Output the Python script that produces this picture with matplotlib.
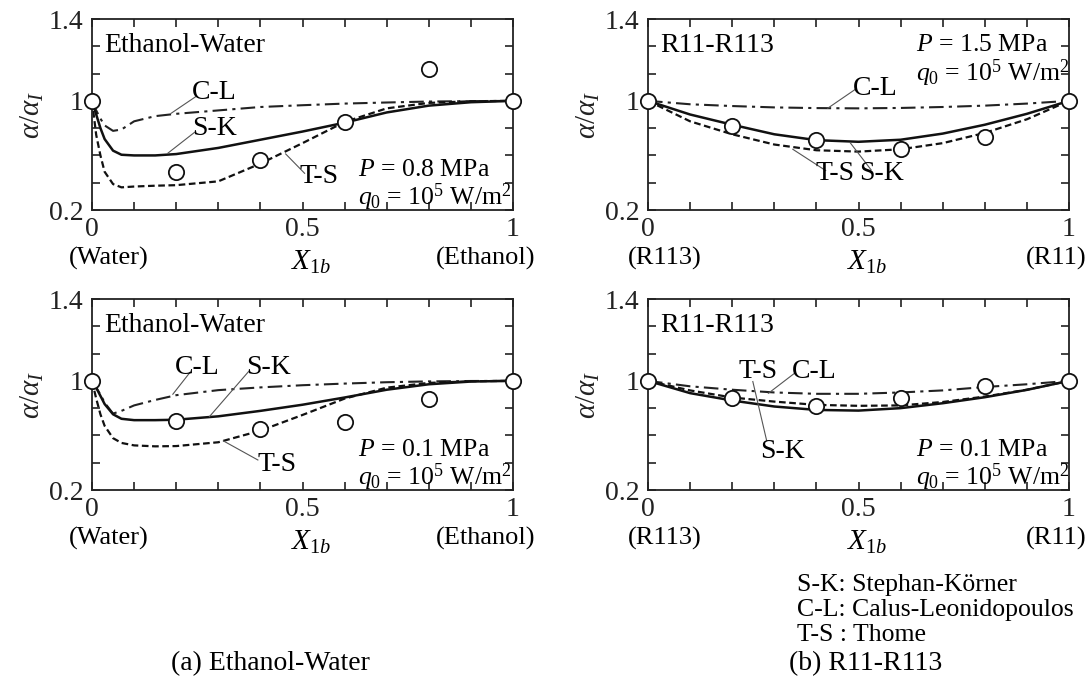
import numpy as np
import matplotlib
matplotlib.use("Agg")
import matplotlib.pyplot as plt

plt.rcParams['font.family'] = ['Liberation Serif', 'DejaVu Serif']
plt.rcParams['mathtext.fontset'] = 'custom'
plt.rcParams['mathtext.rm'] = 'Liberation Serif'
plt.rcParams['mathtext.it'] = 'Liberation Serif:italic'
plt.rcParams['mathtext.bf'] = 'Liberation Serif:bold'

# ---- data ----
x_ew = [0, 0.01, 0.02, 0.03, 0.05, 0.07, 0.1, 0.15, 0.2, 0.3, 0.4, 0.5, 0.6, 0.7, 0.8, 0.9, 1.0]
x_rr = [0, 0.1, 0.2, 0.3, 0.4, 0.5, 0.6, 0.7, 0.8, 0.9, 1.0]
x_pts = [0, 0.2, 0.4, 0.6, 0.8, 1.0]

# Ethanol-Water, P = 0.8 MPa
cl_ew08 = [1, 0.93, 0.87, 0.82, 0.78, 0.79, 0.85, 0.888, 0.905, 0.93, 0.955, 0.968, 0.98, 0.988, 0.995, 0.998, 1]
sk_ew08 = [1, 0.90, 0.80, 0.72, 0.635, 0.605, 0.60, 0.60, 0.61, 0.655, 0.715, 0.775, 0.84, 0.915, 0.965, 0.99, 1]
ts_ew08 = [1, 0.75, 0.60, 0.48, 0.39, 0.366, 0.372, 0.378, 0.382, 0.41, 0.54, 0.69, 0.845, 0.945, 0.985, 0.997, 1]
pts_ew08 = [1, 0.48, 0.565, 0.845, 1.157, 1]

# R11-R113, P = 1.5 MPa
cl_rr15 = [1, 0.975, 0.962, 0.952, 0.947, 0.945, 0.948, 0.955, 0.965, 0.98, 1]
sk_rr15 = [1, 0.90, 0.825, 0.755, 0.712, 0.70, 0.715, 0.76, 0.825, 0.905, 1]
ts_rr15 = [1, 0.85, 0.755, 0.68, 0.638, 0.628, 0.645, 0.69, 0.765, 0.865, 1]
pts_rr15 = [1, 0.817, 0.714, 0.645, 0.733, 1]

# Ethanol-Water, P = 0.1 MPa
cl_ew01 = [1, 0.95, 0.90, 0.84, 0.76, 0.78, 0.82, 0.86, 0.895, 0.932, 0.952, 0.968, 0.98, 0.99, 0.996, 0.999, 1]
sk_ew01 = [1, 0.95, 0.89, 0.83, 0.755, 0.722, 0.712, 0.712, 0.715, 0.74, 0.78, 0.825, 0.878, 0.935, 0.975, 0.995, 1]
ts_ew01 = [1, 0.87, 0.755, 0.67, 0.58, 0.545, 0.527, 0.52, 0.522, 0.55, 0.635, 0.75, 0.87, 0.95, 0.985, 0.997, 1]
pts_ew01 = [1, 0.706, 0.645, 0.702, 0.868, 1]

# R11-R113, P = 0.1 MPa
cl_rr01 = [1, 0.96, 0.935, 0.915, 0.905, 0.905, 0.915, 0.93, 0.955, 0.975, 1]
sk_rr01 = [1, 0.91, 0.856, 0.812, 0.787, 0.782, 0.80, 0.836, 0.88, 0.934, 1]
ts_rr01 = [1, 0.93, 0.878, 0.848, 0.824, 0.817, 0.82, 0.845, 0.885, 0.935, 1]
pts_rr01 = [1, 0.878, 0.817, 0.878, 0.963, 1]

y_ticks = [0.2, 0.4, 0.6, 0.8, 1.0, 1.4 - 0.8 / 3, 1.4 - 0.4 / 3, 1.4]
y_labels = ['0.2', '', '', '', '1', '', '', '1.4']
x_ticks = [0, 0.1, 0.2, 0.3, 0.4, 0.5, 0.6, 0.7, 0.8, 0.9, 1.0]
x_labels = ['0', '', '', '', '', '0.5', '', '', '', '', '1']


# axis is 3 divisions between 1 and 1.4 and 4 divisions between 0.2 and 1
def fwd(y):
    y = np.asarray(y, dtype=float)
    return np.where(y >= 1, (y - 1) / 0.4 * 3, (y - 1) / 0.8 * 4)


def inv(t):
    t = np.asarray(t, dtype=float)
    return np.where(t >= 0, 1 + t * 0.4 / 3, 1 + t * 0.8 / 4)


W, H = 1089, 687
fig = plt.figure(figsize=(W / 100, H / 100), dpi=100)


def make_ax(x0, y0, x1, y1):
    return fig.add_axes([x0 / W, 1 - y1 / H, (x1 - x0) / W, (y1 - y0) / H])


def setup(ax, left, right):
    ax.set_yscale('function', functions=(fwd, inv))
    ax.set_xlim(0, 1)
    ax.set_ylim(0.2, 1.4)
    ax.set_xticks(x_ticks)
    ax.set_xticklabels(x_labels)
    ax.set_yticks(y_ticks)
    ax.set_yticklabels(y_labels)
    ax.minorticks_off()
    ax.tick_params(direction='in', top=True, right=True, length=6, width=1.2,
                   labelsize=20, colors='#222222')
    ax.tick_params(axis='x', pad=5)
    ax.tick_params(axis='y', pad=6)
    for s in ax.spines.values():
        s.set_linewidth(1.3)
        s.set_color('#222222')
    ax.set_ylabel(r'$\alpha/\alpha_I$', fontsize=21, color='#222222')
    ax.yaxis.set_label_coords(-0.11, 0.5)
    ax.text(0.04, -0.255, left, transform=ax.transAxes, ha='center', va='center', fontsize=19)
    ax.text(0.52, -0.275, r'$X_{\mathrm{1}b}$', transform=ax.transAxes, ha='center', va='center', fontsize=21)
    ax.text(right[1], -0.255, right[0], transform=ax.transAxes, ha='center', va='center', fontsize=19)


def draw(ax, x, cl, sk, ts, pts):
    ax.plot(x, cl, color='#222222', lw=1.5, dashes=(7, 2.5, 1.5, 2.5))
    ax.plot(x, sk, color='#111111', lw=1.8)
    ax.plot(x, ts, color='#111111', lw=1.6, dashes=(3, 1.6))
    ax.plot(x_pts, pts, 'o', ms=11, mfc='white', mec='#111111', mew=1.3, clip_on=False, zorder=5)


def leader(ax, p0, p1):
    ax.plot([p0[0], p1[0]], [p0[1], p1[1]], color='#555555', lw=0.8)


ax1 = make_ax(92, 19, 513, 210)
ax2 = make_ax(648, 19, 1069, 210)
ax3 = make_ax(92, 299, 513, 490)
ax4 = make_ax(648, 299, 1069, 490)

for ax in (ax1, ax3):
    setup(ax, '(Water)', ('(Ethanol)', 0.935))
for ax in (ax2, ax4):
    setup(ax, '(R113)', ('(R11)', 0.97))

draw(ax1, x_ew, cl_ew08, sk_ew08, ts_ew08, pts_ew08)
draw(ax2, x_rr, cl_rr15, sk_rr15, ts_rr15, pts_rr15)
draw(ax3, x_ew, cl_ew01, sk_ew01, ts_ew01, pts_ew01)
draw(ax4, x_rr, cl_rr01, sk_rr01, ts_rr01, pts_rr01)

fs = 20
# mixture names
for ax, name in ((ax1, 'Ethanol-Water'), (ax3, 'Ethanol-Water'), (ax2, 'R11-R113'), (ax4, 'R11-R113')):
    ax.text(0.03, 0.86, name, transform=ax.transAxes, ha='left', va='center', fontsize=fs)

q_txt = r'$q_{\mathrm{0}}$ = 10$^{5}$ W/m$^{2}$'
pfs = 18.5
ax1.text(0.632, 0.21, r'$P$ = 0.8 MPa', transform=ax1.transAxes, ha='left', va='center', fontsize=pfs)
ax1.text(0.632, 0.065, q_txt, transform=ax1.transAxes, ha='left', va='center', fontsize=pfs)
ax3.text(0.632, 0.21, r'$P$ = 0.1 MPa', transform=ax3.transAxes, ha='left', va='center', fontsize=pfs)
ax3.text(0.632, 0.065, q_txt, transform=ax3.transAxes, ha='left', va='center', fontsize=pfs)
ax2.text(0.637, 0.864, r'$P$ = 1.5 MPa', transform=ax2.transAxes, ha='left', va='center', fontsize=pfs)
ax2.text(0.637, 0.717, q_txt, transform=ax2.transAxes, ha='left', va='center', fontsize=pfs)
ax4.text(0.637, 0.21, r'$P$ = 0.1 MPa', transform=ax4.transAxes, ha='left', va='center', fontsize=pfs)
ax4.text(0.637, 0.065, q_txt, transform=ax4.transAxes, ha='left', va='center', fontsize=pfs)

# curve labels and leader lines
ax1.text(0.29, 1.04, 'C-L', ha='center', va='center', fontsize=fs)
leader(ax1, (0.188, 0.909), (0.246, 1.02))
ax1.text(0.29, 0.80, 'S-K', ha='center', va='center', fontsize=fs)
leader(ax1, (0.18, 0.616), (0.246, 0.775))
ax1.text(0.54, 0.445, 'T-S', ha='center', va='center', fontsize=fs)
leader(ax1, (0.46, 0.611), (0.505, 0.469))

ax2.text(0.54, 1.062, 'C-L', ha='center', va='center', fontsize=fs)
leader(ax2, (0.427, 0.946), (0.493, 1.057))
ax2.text(0.445, 0.464, 'T-S', ha='center', va='center', fontsize=fs)
leader(ax2, (0.344, 0.645), (0.422, 0.489))
ax2.text(0.555, 0.464, 'S-K', ha='center', va='center', fontsize=fs)
leader(ax2, (0.48, 0.694), (0.53, 0.494))

ax3.text(0.25, 1.064, 'C-L', ha='center', va='center', fontsize=fs)
leader(ax3, (0.192, 0.902), (0.233, 1.042))
ax3.text(0.42, 1.064, 'S-K', ha='center', va='center', fontsize=fs)
leader(ax3, (0.279, 0.738), (0.373, 1.048))
ax3.text(0.44, 0.388, 'T-S', ha='center', va='center', fontsize=fs)
leader(ax3, (0.312, 0.56), (0.394, 0.42))

ax4.text(0.262, 1.045, 'T-S', ha='center', va='center', fontsize=fs)
ax4.text(0.394, 1.045, 'C-L', ha='center', va='center', fontsize=fs)
leader(ax4, (0.286, 0.909), (0.348, 1.037))
ax4.text(0.32, 0.481, 'S-K', ha='center', va='center', fontsize=fs)
leader(ax4, (0.249, 0.995), (0.282, 0.56))

# legend of abbreviations and captions
fig.text(797 / W, 1 - 585 / H, 'S-K: Stephan-Körner', ha='left', va='center', fontsize=18.5)
fig.text(797 / W, 1 - 610 / H, 'C-L: Calus-Leonidopoulos', ha='left', va='center', fontsize=18.5)
fig.text(797 / W, 1 - 635 / H, 'T-S : Thome', ha='left', va='center', fontsize=18.5)
fig.text(270 / W, 1 - 664 / H, '(a) Ethanol-Water', ha='center', va='center', fontsize=20)
fig.text(866 / W, 1 - 664 / H, '(b) R11-R113', ha='center', va='center', fontsize=20)

fig.savefig('out.png', dpi=100)
